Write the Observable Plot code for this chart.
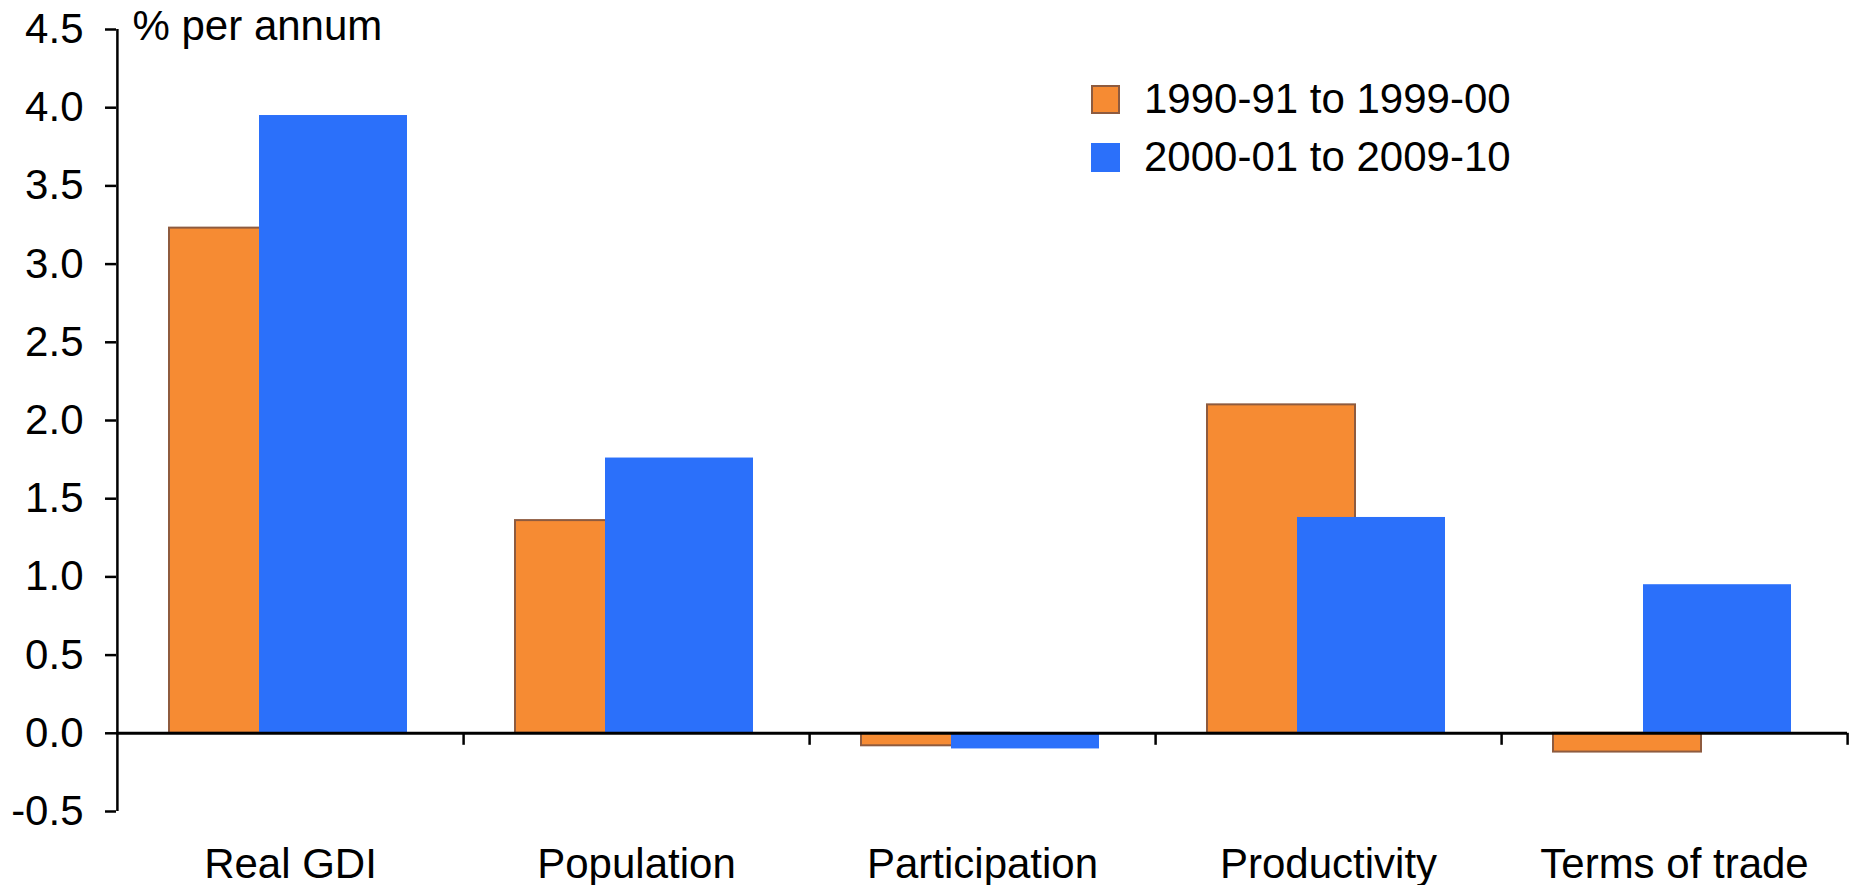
<!DOCTYPE html>
<html>
<head>
<meta charset="utf-8">
<script src="https://cdn.jsdelivr.net/npm/d3@7"></script>
<script src="https://cdn.jsdelivr.net/npm/@observablehq/plot@0.6"></script>
<style>
  html, body { margin: 0; padding: 0; background: #fff; }
  #wrap { position: relative; width: 1856px; height: 885px; font-family: "Liberation Sans", Arial, sans-serif; }
  #legend { position: absolute; left: 1091px; top: 70px; font-size: 42px; color: #000; }
  .row { display: flex; align-items: center; height: 58px; }
  .sw { width: 29px; height: 29px; box-sizing: border-box; margin-right: 24px; }
</style>
</head>
<body>
<div id="wrap"><div id="legend"></div></div>
<script>
const categories = ["Real GDI", "Population", "Participation", "Productivity", "Terms of trade"];
const seriesNames = ["1990-91 to 1999-00", "2000-01 to 2009-10"];
const values1990s = [3.23, 1.36, -0.08, 2.10, -0.12];
const values2000s = [3.95, 1.76, -0.10, 1.38, 0.95];
const yTicks = [-0.5, 0, 0.5, 1, 1.5, 2, 2.5, 3, 3.5, 4, 4.5];
const yLabel = "% per annum";

const orange = "#F68B33", orangeStroke = "#8E5B3F", blue = "#2B70FA";

const data1 = categories.map((c, i) => ({cat: c, v: values1990s[i]}));
const data2 = categories.map((c, i) => ({cat: c, v: values2000s[i]}));

const W = 1856, H = 885, ML = 116, MR = 9, MT = 29, MB = 74;
const bw = (W - ML - MR) / categories.length;
const FS = 42;

const chart = Plot.plot({
  width: W, height: H,
  marginLeft: ML, marginRight: MR, marginTop: MT, marginBottom: MB,
  x: {domain: categories, padding: 0},
  y: {domain: [-0.5, 4.5]},
  style: {fontFamily: '"Liberation Sans", Arial, sans-serif', fontSize: FS + "px", background: "#fff", color: "#000", overflow: "visible"},
  marks: [
    Plot.barY(data1, {x: "cat", y: "v", fill: orange, stroke: orangeStroke, strokeWidth: 2, insetLeft: 52, insetRight: 146}),
    Plot.barY(data2, {x: "cat", y: "v", fill: blue, insetLeft: 142, insetRight: 56}),
    Plot.ruleY([0], {stroke: "#000", strokeWidth: 3}),
    Plot.ruleX(categories, {x: d => d, y1: 0, y2: 0, insetBottom: -12, dx: bw / 2, stroke: "#000", strokeWidth: 2.5}),
    Plot.ruleX([categories[0]], {x: d => d, dx: -bw / 2, stroke: "#000", strokeWidth: 2.5}),
    Plot.axisY(yTicks, {tickSize: 11, tickPadding: 22, tickFormat: d => d.toFixed(1), label: null, strokeWidth: 2.5, fontSize: FS}),
    Plot.axisX({tickSize: 0, tickPadding: 37, label: null, fontSize: FS}),
    Plot.text([yLabel], {frameAnchor: "top-left", dx: 16, dy: -3, textAnchor: "start", lineAnchor: "middle", fontSize: FS})
  ]
});

const wrap = document.getElementById("wrap");
wrap.insertBefore(chart, wrap.firstChild);

const legend = document.getElementById("legend");
const swatches = [{fill: orange, stroke: orangeStroke}, {fill: blue, stroke: null}];
seriesNames.forEach((name, i) => {
  const row = document.createElement("div");
  row.className = "row";
  const sw = document.createElement("div");
  sw.className = "sw";
  sw.style.background = swatches[i].fill;
  if (swatches[i].stroke) sw.style.border = `2px solid ${swatches[i].stroke}`;
  const t = document.createElement("span");
  t.textContent = name;
  row.appendChild(sw);
  row.appendChild(t);
  legend.appendChild(row);
});
</script>
</body>
</html>
